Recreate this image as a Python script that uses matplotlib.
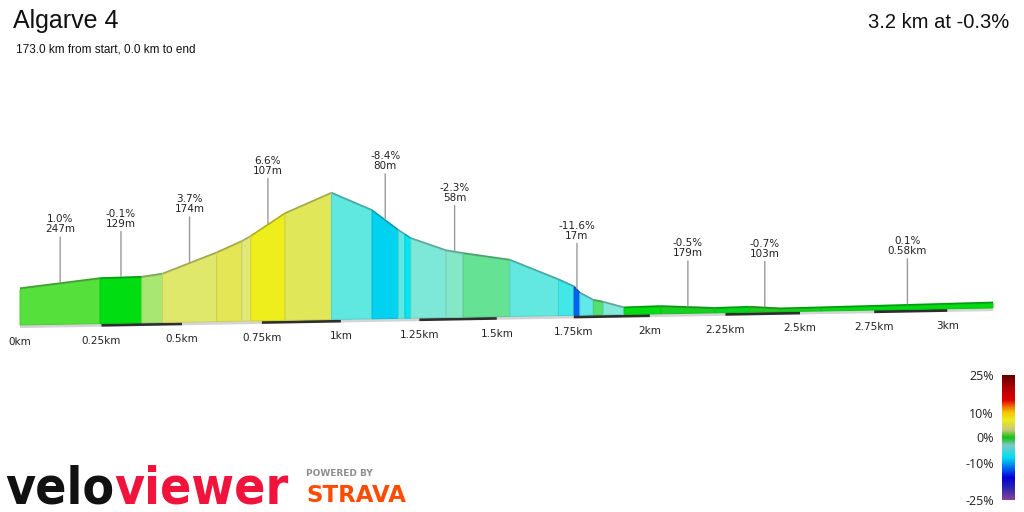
import numpy as np
import matplotlib
matplotlib.use("Agg")
import matplotlib.pyplot as plt
from matplotlib.transforms import Affine2D
from matplotlib.colors import LinearSegmentedColormap, to_rgb
from matplotlib.patches import Polygon

# ---------------- data ----------------
TITLE = "Algarve 4"
SUBTITLE = "173.0 km from start, 0.0 km to end"
SUMMARY = "3.2 km at -0.3%"

dist_km = [0.000, 0.246, 0.375, 0.439, 0.608, 0.687, 0.715, 0.823, 0.970,
           1.099, 1.183, 1.204, 1.223, 1.336, 1.391, 1.542, 1.700, 1.751,
           1.770, 1.814, 1.847, 1.915, 2.036, 2.215, 2.330, 2.433, 2.570, 3.156]
elev_m = [11.5, 14.3, 14.5, 15.4, 21.9, 25.4, 27.0, 34.1, 40.4,
          34.6, 28.1, 26.7, 25.4, 21.3, 20.3, 17.9, 11.4, 9.0,
          7.0, 4.6, 3.9, 2.0, 2.2, 1.3, 1.5, 0.8, 0.9, 1.5]
seg_colors = ["#55e03c", "#00dd10", "#a8e872", "#e0e86c", "#e4e656", "#e0e87a",
              "#eeee1c", "#e0e85a", "#5ee8e0", "#00d2f0", "#5ee8e2", "#00e6f2",
              "#7ee8d8", "#84e8c8", "#66e294", "#62e8e0", "#42e8e8", "#0064f0",
              "#62e8e8", "#52e070", "#82e8d8", "#00dd10", "#18d020", "#00d818",
              "#20cc20", "#10d418", "#00dc10"]

label_segments = [0, 1, 3, 6, 9, 13, 17, 22, 24, 26]
label_grades = ["1.0%", "-0.1%", "3.7%", "6.6%", "-8.4%", "-2.3%", "-11.6%", "-0.5%", "-0.7%", "0.1%"]
label_lengths = ["247m", "129m", "174m", "107m", "80m", "58m", "17m", "179m", "103m", "0.58km"]

tick_km = [0.0, 0.25, 0.5, 0.75, 1.0, 1.25, 1.5, 1.75, 2.0, 2.25, 2.5, 2.75, 3.0]
tick_labels = ["0km", "0.25km", "0.5km", "0.75km", "1km", "1.25km", "1.5km",
               "1.75km", "2km", "2.25km", "2.5km", "2.75km", "3km"]

legend_grades = [25, 10, 0, -10, -25]
legend_labels = ["25%", "10%", "0%", "-10%", "-25%"]
cmap_grades = [-25, -20, -16, -12, -8, -3, 0, 3, 7, 10, 12, 15, 20, 25]
cmap_colors = ["#84449a", "#2a22b0", "#0000dc", "#0070f0", "#00e0f0", "#80c8c4",
               "#10c010", "#c8c878", "#ecec20", "#f4c800", "#f08000", "#e00000",
               "#b00000", "#600000"]

# ---------------- figure ----------------
W, H, DPI = 1024, 512, 100
fig = plt.figure(figsize=(W / DPI, H / DPI), dpi=DPI)
fig.patch.set_facecolor("white")

B = 0.0194  # perspective compression along distance


def fwd(d):
    d = np.asarray(d, dtype=float)
    return d / (1 + B * d)


def inv(u):
    u = np.asarray(u, dtype=float)
    return u / (1 - B * u)


ax = fig.add_axes([20 / W, 187 / H, 973 / W, 187.2 / H])
ax.set_xscale("function", functions=(fwd, inv))
ax.axis("off")

K = 0.0175  # baseline rises toward the far end
skew = ax.transData + Affine2D(np.array([[1, 0, 0], [K, 1, -K * 20], [0, 0, 1]]))

TOP = 0.55
STRIP = 1.0


def shade(c, f):
    return tuple(v * f for v in to_rgb(c))


# baseline strip with alternating distance bars
edges = tick_km + [dist_km[-1]]
for j in range(len(edges) - 1):
    col = "#d4d4d4" if j % 2 == 0 else "#2e2e2e"
    ax.add_artist(Polygon([[edges[j], -STRIP], [edges[j + 1], -STRIP],
                           [edges[j + 1], 0], [edges[j], 0]], closed=True,
                          facecolor=col, edgecolor="none", transform=skew, clip_on=False))

# profile faces
for i, c in enumerate(seg_colors):
    d0, d1 = dist_km[i], dist_km[i + 1]
    e0, e1 = elev_m[i], elev_m[i + 1]
    ax.add_artist(Polygon([[d0, 0], [d1, 0], [d1, e1], [d0, e0]], closed=True,
                          facecolor=c, edgecolor=shade(c, 0.9), linewidth=0.7,
                          transform=skew, clip_on=False))
    ax.add_artist(Polygon([[d0, e0], [d1, e1], [d1, e1 + TOP], [d0, e0 + TOP]], closed=True,
                          facecolor=shade(c, 0.72), edgecolor="none",
                          transform=skew, clip_on=False))

# segment labels
for seg, g, l in zip(label_segments, label_grades, label_lengths):
    dm = (dist_km[seg] + dist_km[seg + 1]) / 2
    em = (elev_m[seg] + elev_m[seg + 1]) / 2 + TOP
    ax.annotate(f"{g}\n{l}", xy=(dm, em), xycoords=skew, xytext=(0, 48),
                textcoords="offset pixels", ha="center", va="bottom", ma="center",
                fontsize=7.5, linespacing=1.0, color="#222222", family="DejaVu Sans",
                arrowprops=dict(arrowstyle="-", color="#9a9a9a", lw=1,
                                shrinkA=0, shrinkB=0),
                annotation_clip=False)

# distance tick labels
for d, t in zip(tick_km, tick_labels):
    ax.annotate(t, xy=(d, 0), xycoords=skew, xytext=(0, -17), textcoords="offset pixels",
                ha="center", va="center", fontsize=7.5, color="#222222",
                family="DejaVu Sans", annotation_clip=False)

ax.set_xlim(0, dist_km[-1])
ax.set_ylim(0, 60)

# gradient legend
cmap = LinearSegmentedColormap.from_list(
    "grade", [((g + 25) / 50, c) for g, c in zip(cmap_grades, cmap_colors)])
cax = fig.add_axes([1002 / W, 12 / H, 13 / W, 125 / H])
grad = np.linspace(-25, 25, 256).reshape(-1, 1)
cax.imshow(grad, cmap=cmap, aspect="auto", origin="lower", extent=[0, 1, -25, 25],
           vmin=-25, vmax=25)
cax.set_xticks([])
cax.set_yticks(legend_grades)
cax.set_yticklabels(legend_labels, fontfamily="Open Sans", fontsize=9, color="#222222")
cax.tick_params(axis="y", length=0, pad=6)
for s in cax.spines.values():
    s.set_visible(False)
cax.set_ylim(-25, 25)

# titles
fig.text(13 / W, 1 - 28 / H, TITLE, fontsize=18, family="Liberation Sans",
         va="baseline", color="#111111")
fig.text(16 / W, 1 - 52 / H, SUBTITLE, fontsize=8.5, family="Liberation Sans",
         va="baseline", color="#111111")
fig.text(1009 / W, 1 - 28 / H, SUMMARY, fontsize=14.5, family="Liberation Sans",
         ha="right", va="baseline", color="#111111")

# logos
velo = fig.text(5 / W, 9 / H, "velo", fontsize=37, weight="bold", color="#111111",
                va="baseline", family="DejaVu Sans", stretch="condensed")
ax.annotate("viewer", xy=(1, 0), xycoords=velo, ha="left", va="bottom",
            fontsize=37, weight="bold", color="#f0143c", family="DejaVu Sans",
            stretch="condensed", annotation_clip=False)
fig.text(306 / W, 1 - 473 / H, "POWERED BY", fontsize=6.5, weight="bold",
         color="#8e8e8e", va="center", family="DejaVu Sans")
fig.text(306 / W, 1 - 502 / H, "STRAVA", fontsize=16.5, weight="bold",
         color="#fc4c02", va="baseline", family="DejaVu Sans")

fig.savefig("out.png", dpi=DPI, facecolor="white")
